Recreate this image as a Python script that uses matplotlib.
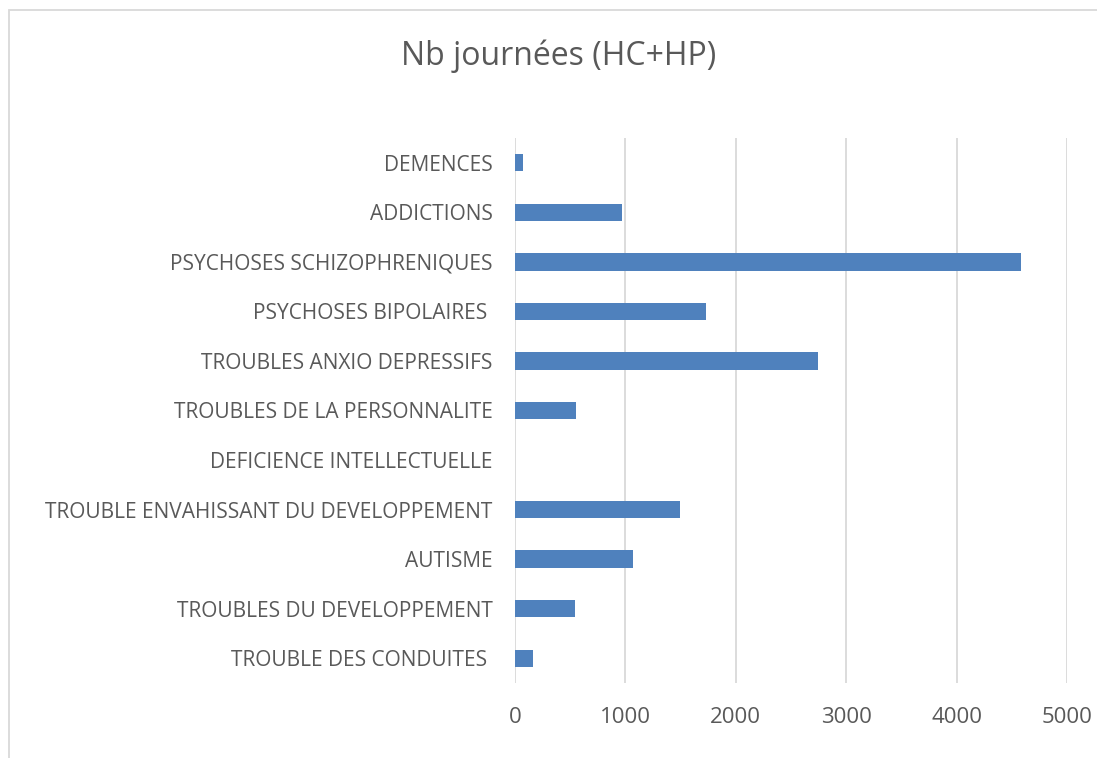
import matplotlib
matplotlib.use('Agg')
import matplotlib.pyplot as plt
from matplotlib.patches import Rectangle

# categories from top to bottom as in the chart
categories = [
    'DEMENCES',
    'ADDICTIONS',
    'PSYCHOSES SCHIZOPHRENIQUES',
    'PSYCHOSES BIPOLAIRES ',
    'TROUBLES ANXIO DEPRESSIFS',
    'TROUBLES DE LA PERSONNALITE',
    'DEFICIENCE INTELLECTUELLE',
    'TROUBLE ENVAHISSANT DU DEVELOPPEMENT',
    'AUTISME',
    'TROUBLES DU DEVELOPPEMENT',
    'TROUBLE DES CONDUITES ',
]
nb_journees = [75, 966, 4581, 1727, 2742, 550, 0, 1497, 1066, 548, 160]
x_ticks = [0, 1000, 2000, 3000, 4000, 5000]

plt.rcParams['font.family'] = ['Open Sans', 'DejaVu Sans']
txt_col = '#595959'

fig = plt.figure(figsize=(10.97, 7.58), dpi=100)
# light chart frame
fig.patches.append(Rectangle((9 / 1097, -0.1), 1.2, 1 - 10 / 758 + 0.1,
                             transform=fig.transFigure, fill=False,
                             edgecolor='#D9D9D9', linewidth=1.3))

ax = fig.add_axes([515 / 1097, 1 - 683 / 758, 552 / 1097, 545 / 758])
ypos = list(range(len(categories)))
ax.barh(ypos, nb_journees, height=0.35, color='#4F81BD')
ax.set_ylim(len(categories) - 0.5, -0.5)
ax.set_xlim(0, 5000)
ax.set_yticks(ypos)
ax.set_yticklabels(categories)
ax.set_xticks(x_ticks)
ax.set_xticklabels([str(t) for t in x_ticks])
ax.grid(axis='x', color='#D9D9D9', linewidth=1.3)
ax.set_axisbelow(True)
for s in ax.spines.values():
    s.set_visible(False)
ax.tick_params(axis='both', length=0, colors=txt_col)
ax.tick_params(axis='y', pad=16, labelsize=15)
ax.tick_params(axis='x', pad=17, labelsize=16)

fig.text(559 / 1097, 1 - 56 / 758, 'Nb journées (HC+HP)', ha='center', va='center',
         fontsize=23, color=txt_col)

plt.savefig('out.png', dpi=100)
